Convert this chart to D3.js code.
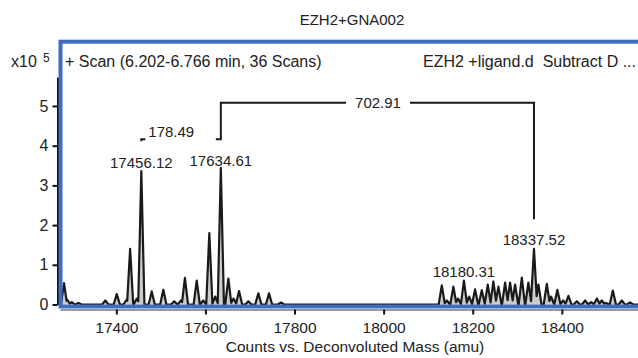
<!DOCTYPE html>
<html>
<head>
<meta charset="utf-8">
<script src="https://cdn.jsdelivr.net/npm/d3@7"></script>
<style>
  body { margin: 0; background: #fff; }
  svg text { font-family: "Liberation Sans", Arial, sans-serif; fill: #222; white-space: pre; }
</style>
</head>
<body>
<svg id="chart" width="638" height="358"></svg>
<script>
// peak masses (amu) and heights (x10^5 counts)
const peakMass = [
  17282.6, 17290, 17300, 17315, 17375.3, 17401, 17423, 17431, 17446, 17456.12,
  17479.5, 17505.5, 17530, 17545, 17554, 17580.5, 17595, 17608.8, 17622, 17634.61,
  17651.5, 17663, 17675.5, 17696.4, 17718.8, 17742.8, 17769.8,
  18130.6, 18142, 18156.6, 18167, 18180.31, 18192, 18205.3, 18220.4, 18233.8,
  18246.4, 18257.7, 18272.7, 18283.9, 18295.1, 18310.2, 18325, 18337.52, 18347.5,
  18366.3, 18376, 18390, 18403, 18414.8, 18433.7, 18452.3, 18466, 18478.6,
  18489.8, 18499, 18514.5, 18534.7, 18553
];
const peakHeight = [
  0.54, 0.12, 0.06, 0.04, 0.1, 0.26, 0.12, 1.4, 0.15, 3.36,
  0.33, 0.37, 0.08, 0.1, 0.67, 0.6, 0.1, 1.8, 0.2, 3.44,
  0.65, 0.15, 0.34, 0.08, 0.28, 0.28, 0.05,
  0.48, 0.1, 0.45, 0.15, 0.6, 0.2, 0.38, 0.36, 0.5,
  0.58, 0.45, 0.55, 0.55, 0.5, 0.68, 0.55, 1.4, 0.5,
  0.52, 0.2, 0.37, 0.1, 0.22, 0.08, 0.1, 0.06, 0.15,
  0.1, 0.04, 0.35, 0.1, 0.05
];
const xTicks = [17400, 17600, 17800, 18000, 18200, 18400];
const yTicks = [0, 1, 2, 3, 4, 5];
// labelled peaks
const labelMass = [17456.12, 17634.61, 18180.31, 18337.52];
const labelText = ["17456.12", "17634.61", "18180.31", "18337.52"];
const labelLevel = [3.45, 3.49, 0.69, 1.51];
// bracket annotations
const deltaSmall = "178.49";
const deltaBig = "702.91";

const svg = d3.select("#chart");
const x = d3.scaleLinear().domain([17273.6, 18571]).range([60, 638]);
const y = d3.scaleLinear().domain([0, 5.73]).range([304.5, 77]);

// title + header texts
svg.append("text").attr("x", 352).attr("y", 25).attr("text-anchor", "middle")
  .style("font-size", "15px").text("EZH2+GNA002");
svg.append("text").attr("x", 11).attr("y", 67).style("font-size", "16px").text("x10");
svg.append("text").attr("x", 43).attr("y", 62).style("font-size", "12px").text("5");

// y axis (sits left of the frame)
const yAxisG = svg.append("g").attr("transform", "translate(57.5,0)")
  .call(d3.axisLeft(y).tickValues(yTicks).tickFormat(d3.format("d")).tickSize(5).tickPadding(4).tickSizeOuter(0));
yAxisG.select(".domain").attr("stroke", "#111").attr("stroke-width", 2);
yAxisG.selectAll(".tick line").attr("stroke", "#111").attr("stroke-width", 2);
yAxisG.selectAll(".tick text").style("font-size", "16px").attr("fill", "#222")
  .style("font-family", "'Liberation Sans', Arial, sans-serif");

// x axis
const xAxisG = svg.append("g").attr("transform", "translate(0,309.5)")
  .call(d3.axisBottom(x).tickValues(xTicks).tickFormat(d3.format("d")).tickSize(5).tickPadding(7).tickSizeOuter(0));
xAxisG.select(".domain").attr("stroke", "#777").attr("stroke-width", 1.5);
xAxisG.selectAll(".tick line").attr("stroke", "#111").attr("stroke-width", 2);
xAxisG.selectAll(".tick text").style("font-size", "15.5px").attr("fill", "#222")
  .style("font-family", "'Liberation Sans', Arial, sans-serif");

svg.append("text").attr("x", 355).attr("y", 352).attr("text-anchor", "middle")
  .style("font-size", "15.5px").text("Counts vs. Deconvoluted Mass (amu)");

// spectrum, each peak as a narrow triangle on the baseline
svg.append("clipPath").attr("id", "plotclip").append("rect")
  .attr("x", 62).attr("y", 44).attr("width", 576).attr("height", 261);

const halfW = 7;
let pts = [[x.domain()[0], 0]];
peakMass.forEach((m, i) => {
  const h = peakHeight[i];
  const prev = i > 0 ? peakMass[i - 1] : -Infinity;
  const next = i < peakMass.length - 1 ? peakMass[i + 1] : Infinity;
  // left foot, or shared valley with previous peak when they overlap
  if (m - halfW >= prev + halfW) pts.push([m - halfW, 0]);
  pts.push([m, h]);
  if (m + halfW <= next - halfW) {
    pts.push([m + halfW, 0]);
  } else {
    const hb = peakHeight[i + 1];
    const t = (halfW * (h - hb) + h * m + hb * next) / (h + hb);
    pts.push([t, h * (1 - (t - m) / halfW)]);
  }
});
pts.push([x.domain()[1], 0]);

const area = d3.area().x((d) => x(d[0])).y0(y(0)).y1((d) => y(d[1]));
const line = d3.line().x((d) => x(d[0])).y((d) => y(d[1]));
const plot = svg.append("g").attr("clip-path", "url(#plotclip)");
plot.append("path").datum(pts).attr("d", area).attr("fill", "#cdcdcd");
plot.append("path").datum(pts).attr("d", line).attr("fill", "none")
  .attr("stroke", "#1a1a1a").attr("stroke-width", 2.2).attr("stroke-linejoin", "round");

// peak labels
labelMass.forEach((m, i) => {
  svg.append("text").attr("x", x(m)).attr("y", y(labelLevel[i]))
    .attr("text-anchor", "middle").style("font-size", "15px").text(labelText[i]);
});

// brackets
const ann = svg.append("g").attr("fill", "none").attr("stroke", "#1a1a1a").attr("stroke-width", 2);
const lowLvl = 4.16, highLvl = 5.08, endLvl = 2.15;
ann.append("path").attr("d", `M${x(17456.12)},${y(lowLvl) + 2}V${y(lowLvl)}H${x(17456.12) + 4}`);
svg.append("text").attr("x", x(17456.12) + 7).attr("y", y(lowLvl) - 2)
  .style("font-size", "15px").text(deltaSmall);
ann.append("path").attr("d", `M${x(17634.61) - 5},${y(lowLvl)}H${x(17634.61)}V${y(highLvl)}H346`);
ann.append("path").attr("d", `M410,${y(highLvl)}H${x(18337.52)}V${y(endLvl)}`);
svg.append("text").attr("x", 378).attr("y", y(highLvl) + 5).attr("text-anchor", "middle")
  .style("font-size", "15px").text(deltaBig);

// blue frame over the plot area
svg.append("rect").attr("x", 60.5).attr("y", 41.7).attr("width", 640).attr("height", 264.8)
  .attr("fill", "none").attr("stroke", "#3e6dbf").attr("stroke-width", 4);

svg.append("text").attr("x", 65).attr("y", 67).style("font-size", "16px")
  .text("+ Scan (6.202-6.766 min, 36 Scans)");
svg.append("text").attr("x", 636).attr("y", 67).attr("text-anchor", "end")
  .style("font-size", "16px").text("EZH2 +ligand.d  Subtract D ...");
</script>
</body>
</html>
